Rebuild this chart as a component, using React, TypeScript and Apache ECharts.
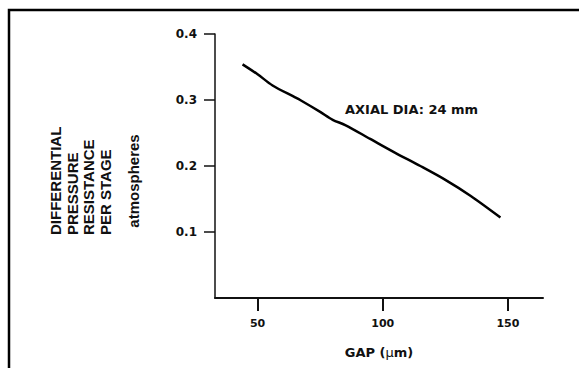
import React, { useEffect, useRef } from "react";
import * as echarts from "echarts";

const gapValues = [44, 50, 56, 65, 67, 75, 80, 85, 95, 105, 115, 125, 135, 147];
const resistanceValues = [0.354, 0.339, 0.322, 0.304, 0.300, 0.282, 0.270, 0.262, 0.241, 0.220, 0.200, 0.179, 0.155, 0.122];
const xTickValues = [50, 100, 150];
const yTickValues = [0.1, 0.2, 0.3, 0.4];
const yTitleLines = ["DIFFERENTIAL", "PRESSURE", "RESISTANCE", "PER STAGE"];
const yUnit = "atmospheres";
const annotation = "AXIAL DIA: 24 mm";

const WIDE = "'DejaVu Sans', Verdana, sans-serif";
const NARROW = "'Liberation Sans', Arial, Helvetica, sans-serif";

export default function App() {
  const ref = useRef<HTMLDivElement>(null);
  useEffect(() => {
    if (!ref.current) return;
    const chart = echarts.init(ref.current, null, { renderer: "svg" });
    const data = gapValues.map((g, i) => [g, resistanceValues[i]]);
    const titleX = [55, 72, 88, 105];
    const graphics: any[] = [
      {
        type: "rect",
        shape: { x: 9, y: 10, width: 700, height: 500 },
        style: { fill: "none", stroke: "#000", lineWidth: 2.5 },
        silent: true,
      },
      ...yTitleLines.map((t, i) => ({
        type: "text",
        x: titleX[i],
        y: 235,
        rotation: Math.PI / 2,
        style: {
          text: t,
          font: `bold 15px ${NARROW}`,
          fill: "#111",
          textAlign: "left",
          textVerticalAlign: "middle",
        },
      })),
      {
        type: "text",
        x: 133,
        y: 181,
        rotation: Math.PI / 2,
        style: {
          text: yUnit,
          font: `bold 15px ${NARROW}`,
          fill: "#111",
          textAlign: "center",
          textVerticalAlign: "middle",
        },
      },
      {
        type: "text",
        left: 345,
        top: 103,
        style: {
          text: annotation,
          font: `bold 13px ${WIDE}`,
          fill: "#111",
        },
      },
    ];
    chart.setOption({
      animation: false,
      backgroundColor: "#fff",
      grid: { left: 215, top: 34, right: 36, height: 264, containLabel: false },
      xAxis: {
        type: "value",
        min: 33,
        max: 164,
        splitLine: { show: false },
        axisLine: { show: true, onZero: false, lineStyle: { color: "#111", width: 2 } },
        axisTick: { show: true, inside: false, length: 13, customValues: xTickValues, lineStyle: { color: "#111", width: 2 } },
        axisLabel: {
          customValues: xTickValues,
          margin: 20,
          color: "#111",
          fontFamily: WIDE,
          fontWeight: "bold",
          fontSize: 11,
        },
        name: "{b|GAP (}{n|μ}{b|m)}",
        nameLocation: "middle",
        nameGap: 48,
        nameTextStyle: {
          rich: {
            b: { fontFamily: WIDE, fontWeight: "bold", fontSize: 13, color: "#111" },
            n: { fontFamily: WIDE, fontWeight: "normal", fontSize: 13, color: "#111" },
          },
        },
      },
      yAxis: {
        type: "value",
        min: 0,
        max: 0.4,
        splitLine: { show: false },
        axisLine: { show: true, lineStyle: { color: "#111", width: 1.5 } },
        axisTick: { show: true, length: 11, customValues: yTickValues, lineStyle: { color: "#111", width: 1.5 } },
        axisLabel: {
          customValues: yTickValues,
          margin: 18,
          color: "#111",
          fontFamily: WIDE,
          fontWeight: "bold",
          fontSize: 12,
          formatter: (v: number) => v.toFixed(1),
        },
      },
      series: [
        {
          type: "line",
          data,
          showSymbol: false,
          smooth: 0.3,
          lineStyle: { color: "#000", width: 2.5 },
        },
      ],
      graphic: graphics,
    });
    return () => chart.dispose();
  }, []);
  return <div ref={ref} style={{ width: 579, height: 368, position: "absolute", left: 0, top: 0 }} />;
}
